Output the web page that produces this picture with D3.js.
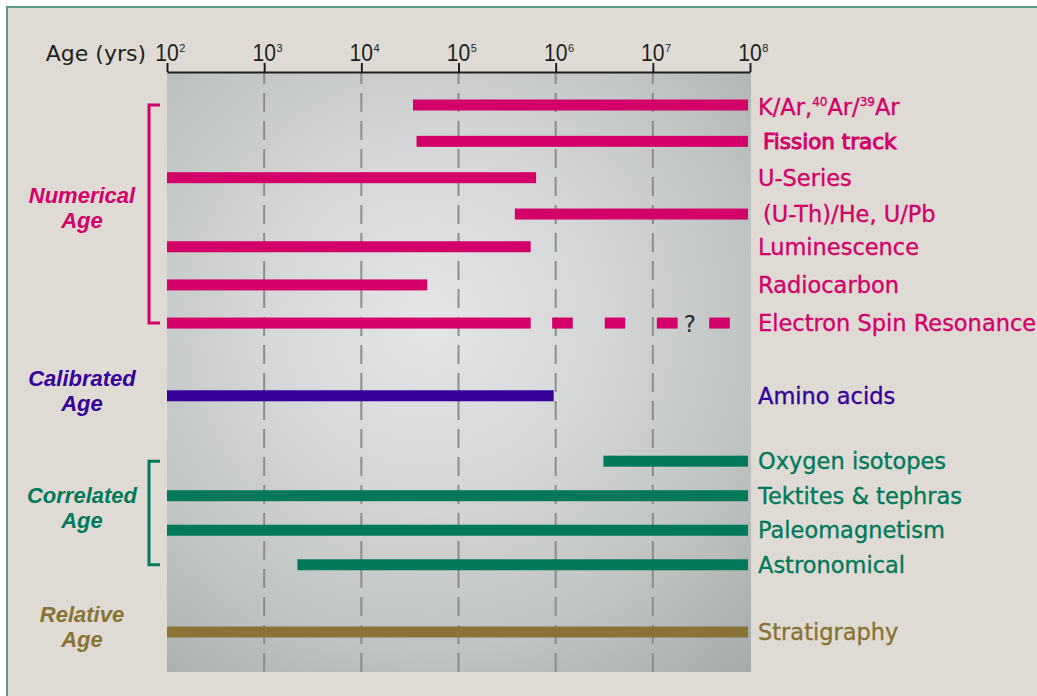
<!DOCTYPE html>
<html><head><meta charset="utf-8">
<script src="https://cdn.jsdelivr.net/npm/d3@7"></script>
<style>html,body{margin:0;padding:0;background:#fff;}svg{display:block;}</style>
</head><body>
<svg id="chart" width="1037" height="696"></svg>
<script>
// ---------------- data ----------------
const methods = ["K/Ar", "Fission track", "U-Series", "(U-Th)/He, U/Pb", "Luminescence", "Radiocarbon",
  "Electron Spin Resonance", "Amino acids", "Oxygen isotopes", "Tektites & tephras", "Paleomagnetism",
  "Astronomical", "Stratigraphy"];
const methodGroup = ["Numerical","Numerical","Numerical","Numerical","Numerical","Numerical","Numerical",
  "Calibrated","Correlated","Correlated","Correlated","Correlated","Relative"];
const minAge = [3.4e4, 3.7e4, 1e2, 3.8e5, 1e2, 1e2, 1e2, 1e2, 3.1e6, 1e2, 1e2, 2.2e3, 1e2];
const maxAge = [1e8, 1e8, 6.6e5, 1e8, 5.8e5, 5e4, 5.8e5, 1e6, 1e8, 1e8, 1e8, 1e8, 1e8];
const rowOrder = [0, 1, 2, 3, 3.9, 4.95, 6, 8, 9.8, 10.75, 11.7, 12.65, 14.5];
const esrUncertain = [[9.2e5, 1.5e6], [3.2e6, 5.2e6], [1.1e7, 1.8e7], [3.8e7, 6.2e7]];
const esrQuestionAge = 2.4e7;
const groups = ["Numerical", "Calibrated", "Correlated", "Relative"];
const groupLines = [["Numerical","Age"],["Calibrated","Age"],["Correlated","Age"],["Relative","Age"]];
const groupBracket = [true, false, true, false];
const tickExponents = [2, 3, 4, 5, 6, 7, 8];
const axisTitle = "Age (yrs)";

// ---------------- styles ----------------
const groupColor = {Numerical:"#d4006a", Calibrated:"#36009a", Correlated:"#00795a", Relative:"#877333"};
const labelFont = "'DejaVu Sans', sans-serif";

const svg = d3.select("#chart");
const W = 1037, H = 696;
const plotL = 167, plotR = 750, plotT = 72, plotB = 672;

// frame
svg.append("rect").attr("x",0).attr("y",0).attr("width",W).attr("height",H).attr("fill","#fff");
svg.append("rect").attr("x",7).attr("y",7).attr("width",W+20).attr("height",H+20)
  .attr("fill","#dfdbd4").attr("stroke","#5a9d84").attr("stroke-width",2);

// gradient
const defs = svg.append("defs");
const grad = defs.append("radialGradient").attr("id","pg").attr("gradientUnits","userSpaceOnUse")
  .attr("cx",430).attr("cy",320).attr("r",470);
[[0,"#e5e5e7"],[0.35,"#d6d7d8"],[0.7,"#bfc3c2"],[1,"#a7acaa"]].forEach(s=>
  grad.append("stop").attr("offset",s[0]).attr("stop-color",s[1]));

const x = d3.scaleLog().domain([1e2, 1e8]).range([plotL, plotR]);
const y = d3.scaleLinear().domain([0, 14.5]).range([105, 632]);

svg.append("rect").attr("x",plotL).attr("y",plotT).attr("width",plotR-plotL+1).attr("height",plotB-plotT)
  .attr("fill","url(#pg)");

// grid lines
const tickVals = tickExponents.map(e => Math.pow(10, e));
svg.append("g").selectAll("line").data(tickVals.slice(1, -1)).join("line")
  .attr("x1", d => x(d)).attr("x2", d => x(d)).attr("y1", plotT).attr("y2", plotB)
  .attr("stroke","#8c8c8c").attr("stroke-width",2)
  .attr("stroke-dasharray","19 9").attr("stroke-dashoffset",7);

// axis
const axis = d3.axisTop(x).tickValues(tickVals).tickSize(9).tickSizeOuter(0).tickFormat("");
const ag = svg.append("g").attr("transform",`translate(0,${plotT})`).call(axis);
ag.select(".domain").attr("stroke","#1e1e1e").attr("stroke-width",2);
ag.selectAll(".tick line").attr("stroke","#1e1e1e").attr("stroke-width",2);

const tickFont = "'Liberation Sans', Arial, sans-serif";
const tl = svg.append("g").selectAll("g").data(tickExponents).join("g");
tl.append("text").attr("class","ten").attr("x", d => x(Math.pow(10,d))).attr("y", 61)
  .attr("text-anchor","middle").attr("font-family",tickFont)
  .attr("font-size",24).attr("fill","#1e1e1e")
  .attr("transform", d => `translate(${x(Math.pow(10,d))},0) scale(0.88,1) translate(${-x(Math.pow(10,d))},0)`)
  .text("10");
tl.each(function(d){
  const g = d3.select(this);
  const w = g.select("text.ten").node().getComputedTextLength() * 0.88;
  g.append("text").attr("x", x(Math.pow(10,d)) + w/2 + 0.5).attr("y", 52)
    .attr("font-family",tickFont).attr("font-size",11).attr("fill","#1e1e1e").text(d);
});

svg.append("text").attr("x",146).attr("y",61).attr("text-anchor","end")
  .attr("font-family",labelFont).attr("font-size",22).attr("fill","#1e1e1e").text(axisTitle);

// bars
const rows = methods.map((m,i)=>({name:m, group:methodGroup[i], lo:minAge[i], hi:maxAge[i], row:rowOrder[i]}));
const barH = 11;
svg.append("g").selectAll("rect").data(rows).join("rect")
  .attr("x", d => x(d.lo)).attr("width", d => x(d.hi) - x(d.lo) - 2)
  .attr("y", d => y(d.row) - barH/2).attr("height", barH)
  .attr("fill", d => groupColor[d.group]);

// ESR uncertain extension
const esr = rows[6];
svg.append("g").selectAll("rect").data(esrUncertain).join("rect")
  .attr("x", d => x(d[0])).attr("width", d => x(d[1]) - x(d[0]))
  .attr("y", y(esr.row) - barH/2).attr("height", barH).attr("fill", groupColor[esr.group]);
svg.append("text").attr("x", x(esrQuestionAge)).attr("y", y(esr.row) + 9).attr("text-anchor","middle")
  .attr("font-family",labelFont).attr("font-size",23).attr("fill","#2a2a2a").text("?");

// method labels
const lab = svg.append("g").selectAll("text").data(rows).join("text")
  .attr("x", d => d.name === "Fission track" || d.name.startsWith("(U") ? 763 : 758)
  .attr("y", d => y(d.row) + 8)
  .attr("font-family", labelFont).attr("font-size", 22.5)
  .attr("fill", d => groupColor[d.group])
  .attr("stroke", d => groupColor[d.group]).attr("stroke-width", 0.35);
lab.each(function(d){
  const t = d3.select(this);
  if (d.name === "K/Ar") {
    t.attr("y", y(d.row) + 10);
    t.append("tspan").text("K/Ar,");
    t.append("tspan").attr("font-size",12).attr("dy",-9).text("40");
    t.append("tspan").attr("dy",9).text("Ar/");
    t.append("tspan").attr("font-size",12).attr("dy",-9).text("39");
    t.append("tspan").attr("dy",9).text("Ar");
  } else {
    t.text(d.name);
  }
  if (d.name === "Fission track") {
    t.attr("stroke-width",1).attr("font-size",21.5);
  }
});

// group labels & brackets
groups.forEach((g, gi) => {
  const gr = rows.filter(r => r.group === g);
  const top = y(d3.min(gr, r => r.row)), bot = y(d3.max(gr, r => r.row));
  const c = d3.mean(gr, r => y(r.row));
  groupLines[gi].forEach((ln, li) => {
    svg.append("text").attr("text-anchor","middle")
      .attr("font-family","'Liberation Sans', Arial, sans-serif").attr("font-weight","bold")
      .attr("font-style","italic").attr("font-size",22).attr("fill",groupColor[g])
      .attr("x", 82).attr("y", c - 10 + li*25).text(ln);
  });
  if (groupBracket[gi]) {
    svg.append("path")
      .attr("d", `M160,${top} H149 V${bot} H160`)
      .attr("fill","none").attr("stroke",groupColor[g]).attr("stroke-width",3);
  }
});
</script>
</body></html>
